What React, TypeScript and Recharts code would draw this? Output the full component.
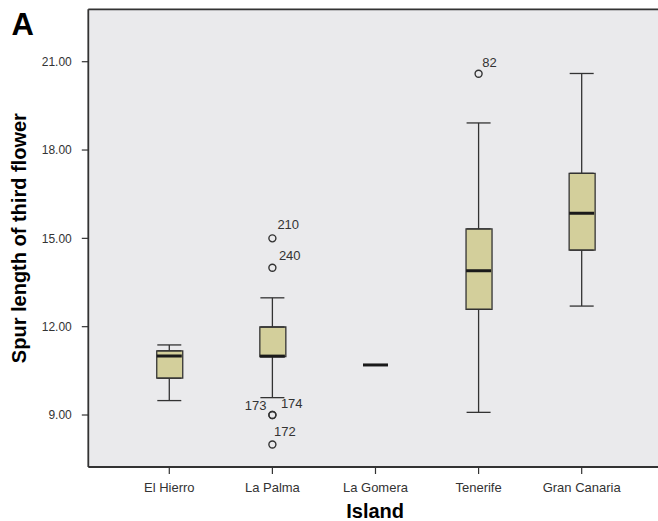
import {
  ComposedChart,
  Bar,
  Scatter,
  ErrorBar,
  XAxis,
  YAxis,
  CartesianGrid,
  ReferenceLine,
  Label,
} from "recharts";

// box plot summary per island
const islands = ["El Hierro", "La Palma", "La Gomera", "Tenerife", "Gran Canaria"];
const q1 = [10.25, 10.98, 10.7, 12.59, 14.6];
const medians = [11.0, 11.0, 10.7, 13.9, 15.85];
const q3 = [11.18, 11.99, 10.7, 15.32, 17.21];
const whiskerLow = [9.49, 9.59, 10.7, 9.09, 12.7];
const whiskerHigh = [11.38, 12.98, 10.7, 18.92, 20.6];

// outliers: island index, value, case number
const outlierIsland = [1, 1, 1, 1, 1, 3];
const outlierValue = [15.0, 14.0, 9.0, 9.0, 8.0, 20.59];
const outlierCase = ["210", "240", "173", "174", "172", "82"];

const yTicks = [9, 12, 15, 18, 21];

// where each case label sits relative to its circle
const labelPlace: Record<string, { dx: number; dy: number; anchor: string }> = {
  "210": { dx: 5, dy: -9, anchor: "start" },
  "240": { dx: 6.5, dy: -7.5, anchor: "start" },
  "173": { dx: -6, dy: -5, anchor: "end" },
  "174": { dx: 8.5, dy: -7.5, anchor: "start" },
  "172": { dx: 1.7, dy: -8.6, anchor: "start" },
  "82": { dx: 3.6, dy: -7, anchor: "start" },
};

const X_DOMAIN = [0.2144, 5.779];
const Y_DOMAIN = [7.234, 22.78];
const INK = "#333333";

const boxData = islands.map((name, i) => ({
  x: i + 1,
  name,
  box: [q1[i], q3[i]],
}));

const medianData = islands.map((_, i) => ({ x: i + 1, y: medians[i] }));

const upperWhisker = islands
  .map((_, i) => ({ x: i + 1, y: q3[i], err: [0, whiskerHigh[i] - q3[i]] }))
  .filter((d) => d.err[1] > 0);

const lowerWhisker = islands
  .map((_, i) => ({ x: i + 1, y: q1[i], err: [q1[i] - whiskerLow[i], 0] }))
  .filter((d) => d.err[0] > 0);

const outliers = outlierValue.map((v, i) => ({
  x: outlierIsland[i] + 1,
  y: v,
  id: outlierCase[i],
}));

const Nothing = () => <g />;

const MedianMark = (p: any) => (
  <line
    x1={p.cx - 12.5}
    x2={p.cx + 12.5}
    y1={p.cy}
    y2={p.cy}
    stroke="#1a1a1a"
    strokeWidth={3}
  />
);

const OutlierMark = (p: any) => {
  const id = p.payload?.id;
  const pl = labelPlace[id] || { dx: 5, dy: -8, anchor: "start" };
  return (
    <g>
      <circle cx={p.cx} cy={p.cy} r={3.5} fill="none" stroke={INK} strokeWidth={1.4} />
      <text
        x={p.cx + pl.dx}
        y={p.cy + pl.dy}
        textAnchor={pl.anchor as any}
        fontSize={13}
        fill={INK}
      >
        {id}
      </text>
    </g>
  );
};

export default function App() {
  return (
    <div
      style={{
        position: "absolute",
        left: 0,
        top: 0,
        width: 658,
        height: 521,
        overflow: "hidden",
        background: "#fff",
        fontFamily: "'Liberation Sans', Arial, sans-serif",
      }}
    >
      <svg
        width={60}
        height={50}
        style={{ position: "absolute", left: 0, top: 0, zIndex: 2 }}
      >
        <text x={11.5} y={35} fontSize={31} fontWeight="bold" fill="#000">
          A
        </text>
      </svg>
      <ComposedChart
        width={680}
        height={521}
        data={boxData}
        margin={{ top: 9.3, right: 18, bottom: 0, left: 0 }}
      >
        <CartesianGrid
          fill="#eaeaec"
          stroke="none"
          horizontal={false}
          vertical={false}
        />
        <XAxis
          dataKey="x"
          type="number"
          domain={X_DOMAIN}
          allowDataOverflow
          ticks={[1, 2, 3, 4, 5]}
          tickFormatter={(v) => islands[v - 1] ?? ""}
          height={54}
          tickSize={7}
          tickMargin={9}
          axisLine={{ stroke: INK, strokeWidth: 1.8 }}
          tickLine={{ stroke: INK, strokeWidth: 1.2 }}
          tick={{ fill: INK, fontSize: 13 }}
        >
          <Label
            content={({ viewBox }: any) => (
              <text
                x={viewBox.x + viewBox.width / 2}
                y={viewBox.y + 51}
                textAnchor="middle"
                fontSize={20}
                fontWeight="bold"
                fill="#000"
              >
                Island
              </text>
            )}
          />
        </XAxis>
        <YAxis
          type="number"
          domain={Y_DOMAIN}
          allowDataOverflow
          ticks={yTicks}
          tickFormatter={(v) => v.toFixed(2)}
          width={88.3}
          tickSize={6.5}
          tickMargin={10}
          axisLine={{ stroke: INK, strokeWidth: 1.8 }}
          tickLine={{ stroke: INK, strokeWidth: 1.2 }}
          tick={{ fill: INK, fontSize: 12 }}
        >
          <Label
            content={({ viewBox }: any) => {
              const cx = 26;
              const cy = viewBox.y + viewBox.height / 2;
              return (
                <text
                  x={cx}
                  y={cy}
                  transform={`rotate(-90 ${cx} ${cy})`}
                  textAnchor="middle"
                  fontSize={20}
                  fontWeight="bold"
                  fill="#000"
                >
                  Spur length of third flower
                </text>
              );
            }}
          />
        </YAxis>
        <ReferenceLine y={Y_DOMAIN[1]} stroke={INK} strokeWidth={1.8} />
        <Scatter data={upperWhisker} dataKey="y" shape={Nothing} isAnimationActive={false}>
          <ErrorBar dataKey="err" direction="y" width={12} stroke={INK} strokeWidth={1.3} />
        </Scatter>
        <Scatter data={lowerWhisker} dataKey="y" shape={Nothing} isAnimationActive={false}>
          <ErrorBar dataKey="err" direction="y" width={12} stroke={INK} strokeWidth={1.3} />
        </Scatter>
        <Bar
          dataKey="box"
          barSize={26}
          fill="#d3cf9b"
          stroke={INK}
          strokeWidth={1.3}
          isAnimationActive={false}
        />
        <Scatter data={medianData} dataKey="y" shape={MedianMark} isAnimationActive={false} />
        <Scatter data={outliers} dataKey="y" shape={OutlierMark} isAnimationActive={false} />
      </ComposedChart>
    </div>
  );
}
